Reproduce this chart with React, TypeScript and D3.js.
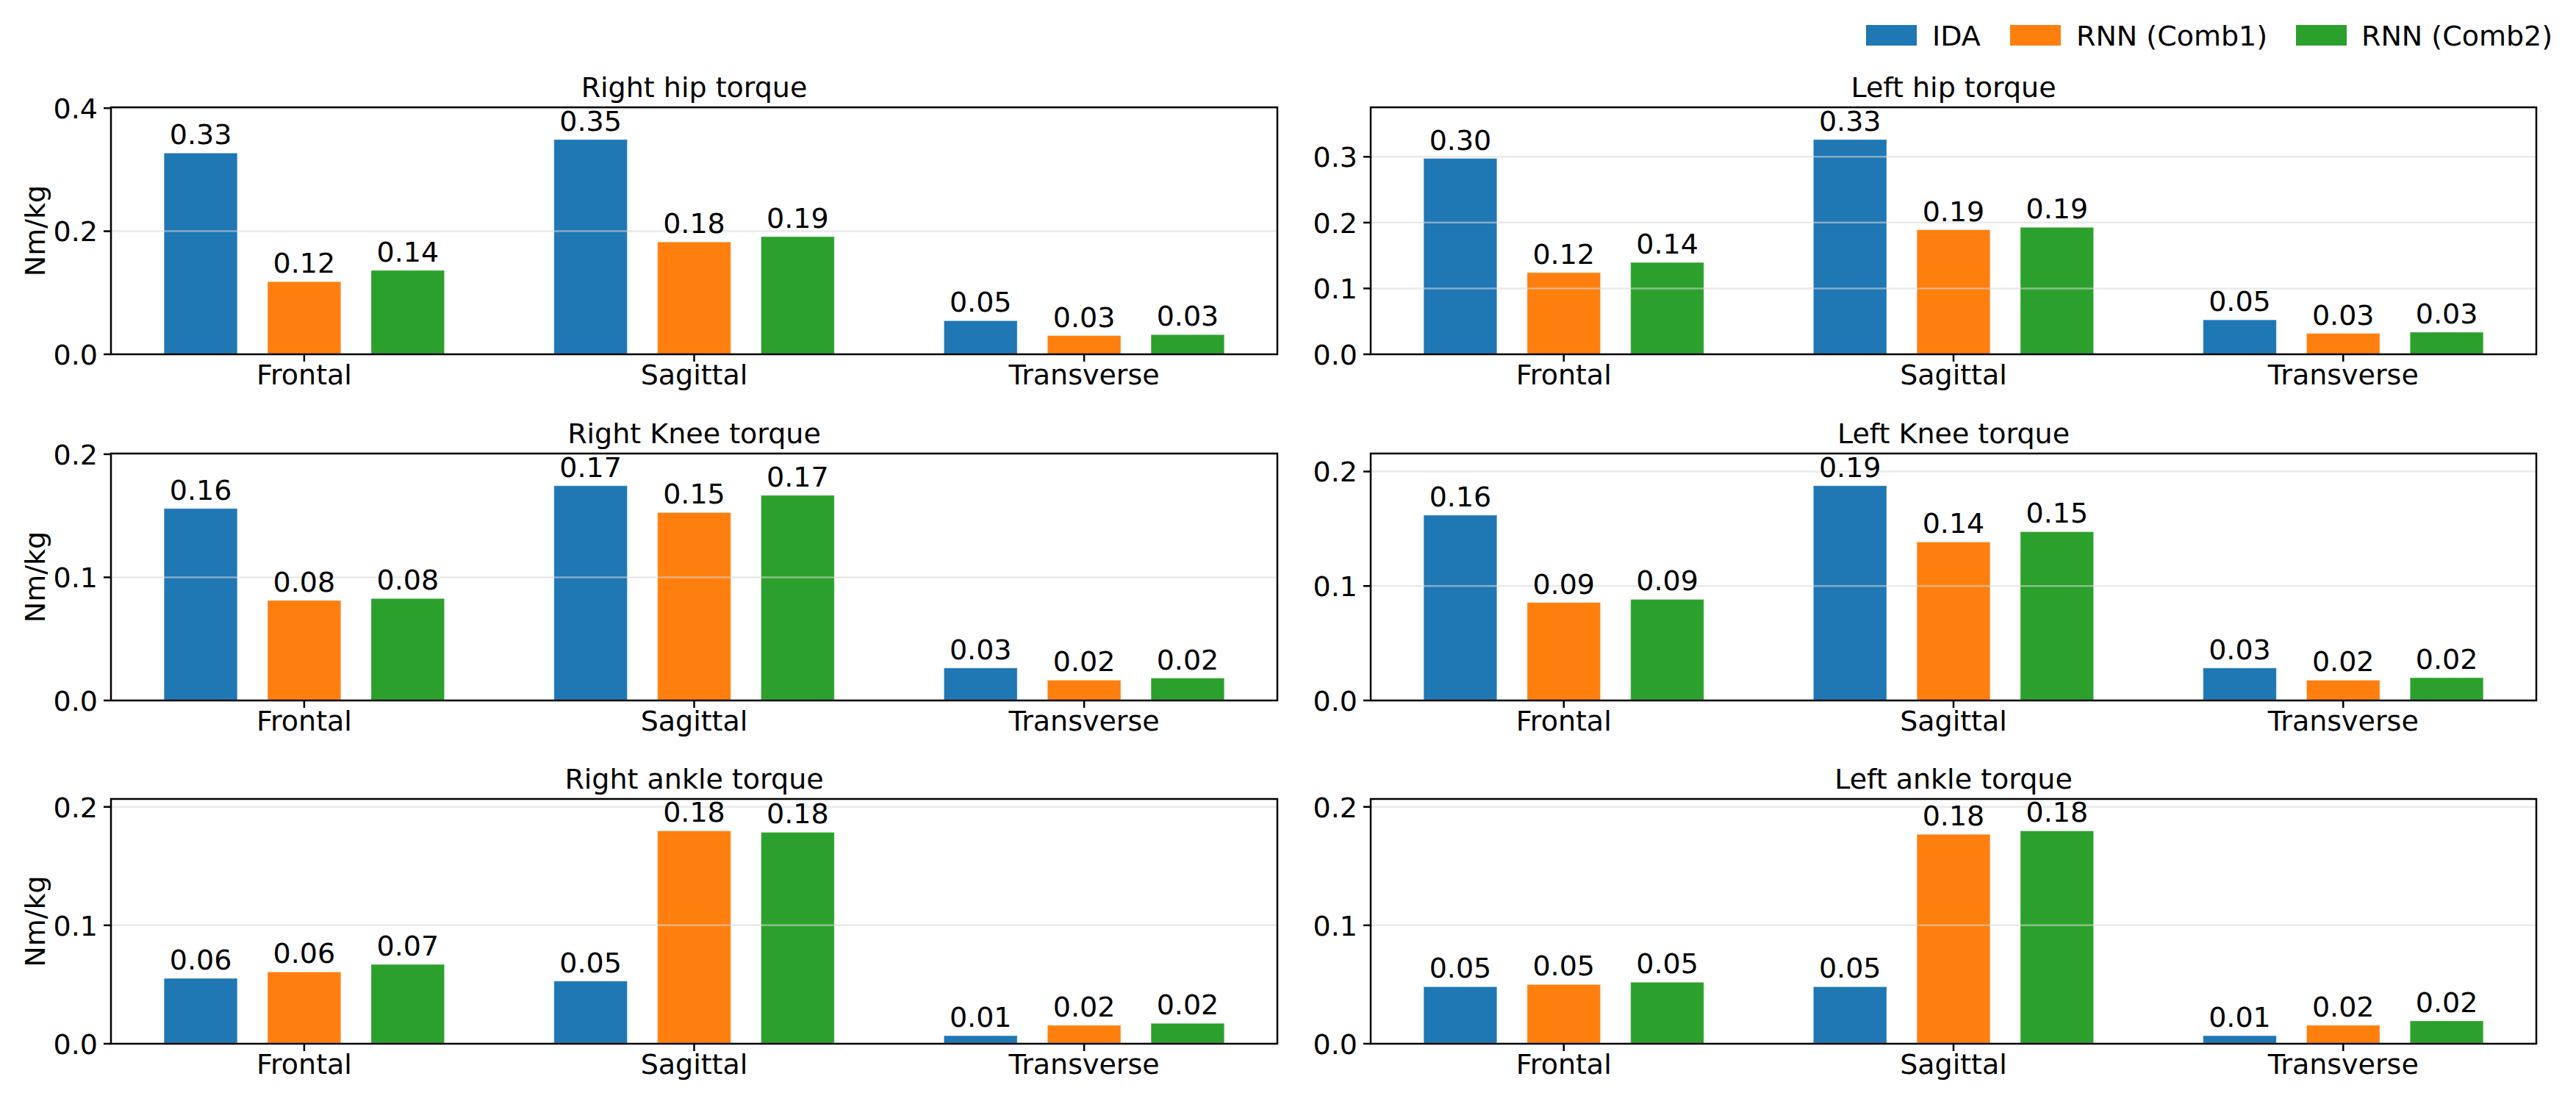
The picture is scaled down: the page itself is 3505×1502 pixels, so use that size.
import React from "react";
import * as d3 from "d3";

const categories = ["Frontal", "Sagittal", "Transverse"];
const seriesNames = ["IDA", "RNN (Comb1)", "RNN (Comb2)"];
const seriesColors = ["#1f77b4", "#ff7f0e", "#2ca02c"];

const panelTitles = [
  "Right hip torque",
  "Left hip torque",
  "Right Knee torque",
  "Left Knee torque",
  "Right ankle torque",
  "Left ankle torque",
];

// values per panel: [IDA, Comb1, Comb2] each over categories
const rightHipIDA = [0.327, 0.349, 0.0545];
const rightHipComb1 = [0.118, 0.1825, 0.0304];
const rightHipComb2 = [0.1364, 0.1912, 0.0319];

const leftHipIDA = [0.2975, 0.3262, 0.0523];
const leftHipComb1 = [0.1241, 0.1891, 0.0318];
const leftHipComb2 = [0.1395, 0.1928, 0.0336];

const rightKneeIDA = [0.1559, 0.1744, 0.0264];
const rightKneeComb1 = [0.0812, 0.1526, 0.0165];
const rightKneeComb2 = [0.0828, 0.1666, 0.0182];

const leftKneeIDA = [0.1619, 0.1876, 0.0284];
const leftKneeComb1 = [0.0856, 0.1384, 0.0177];
const leftKneeComb2 = [0.0883, 0.1474, 0.0199];

const rightAnkleIDA = [0.0552, 0.0529, 0.0068];
const rightAnkleComb1 = [0.0606, 0.1797, 0.0156];
const rightAnkleComb2 = [0.067, 0.1785, 0.0172];

const leftAnkleIDA = [0.0481, 0.0481, 0.0068];
const leftAnkleComb1 = [0.05, 0.1768, 0.0156];
const leftAnkleComb2 = [0.0519, 0.1797, 0.0193];

const panelTicks = [
  [0.0, 0.2, 0.4],
  [0.0, 0.1, 0.2, 0.3],
  [0.0, 0.1, 0.2],
  [0.0, 0.1, 0.2],
  [0.0, 0.1, 0.2],
  [0.0, 0.1, 0.2],
];

const panelData = [
  [rightHipIDA, rightHipComb1, rightHipComb2],
  [leftHipIDA, leftHipComb1, leftHipComb2],
  [rightKneeIDA, rightKneeComb1, rightKneeComb2],
  [leftKneeIDA, leftKneeComb1, leftKneeComb2],
  [rightAnkleIDA, rightAnkleComb1, rightAnkleComb2],
  [leftAnkleIDA, leftAnkleComb1, leftAnkleComb2],
];

const W = 3505;
const H = 1502;
const colLeft = [151, 1865];
const colRight = [1738, 3451];
const rowTop = [146, 617, 1087];
const rowBottom = [482, 953, 1420];

const FONT = "'DejaVu Sans', sans-serif";
const FS = 38;
const fmtVal = d3.format(".2f");
const fmtTick = d3.format(".1f");

const BAR_W = 0.188;
const OFFSET = 0.2655;

function Panel({ idx }: { idx: number }) {
  const col = idx % 2;
  const row = Math.floor(idx / 2);
  const x0 = colLeft[col];
  const x1 = colRight[col];
  const y0 = rowTop[row];
  const y1 = rowBottom[row];
  const data = panelData[idx];
  const maxV = d3.max(data.flat()) as number;
  const x = d3.scaleLinear().domain([-0.4955, 2.4955]).range([x0, x1]);
  const y = d3.scaleLinear().domain([0, maxV * 1.15]).range([y1, y0]);
  const ticks = panelTicks[idx];
  const barPx = x(BAR_W) - x(0);

  return (
    <g>
      {data.map((vals, s) =>
        vals.map((v, c) => {
          const cx = x(c + (s - 1) * OFFSET);
          return (
            <rect
              key={`b${s}-${c}`}
              x={cx - barPx / 2}
              y={y(v)}
              width={barPx}
              height={y(0) - y(v)}
              fill={seriesColors[s]}
              stroke="#ffffff"
              strokeOpacity={0.35}
              strokeWidth={1.2}
            />
          );
        })
      )}
      {ticks.map((t) => (
        <line
          key={`g${t}`}
          x1={x0}
          x2={x1}
          y1={y(t)}
          y2={y(t)}
          stroke="#d9d9d9"
          strokeOpacity={0.55}
          strokeWidth={2.5}
        />
      ))}
      {data.map((vals, s) =>
        vals.map((v, c) => (
          <text
            key={`l${s}-${c}`}
            x={x(c + (s - 1) * OFFSET)}
            y={y(v) - 12}
            textAnchor="middle"
            fontFamily={FONT}
            fontSize={FS}
            fill="#000"
          >
            {fmtVal(v)}
          </text>
        ))
      )}
      <rect
        x={x0}
        y={y0}
        width={x1 - x0}
        height={y1 - y0}
        fill="none"
        stroke="#000"
        strokeWidth={2.5}
      />
      {ticks.map((t) => (
        <g key={`yt${t}`}>
          <line x1={x0 - 10} x2={x0} y1={y(t)} y2={y(t)} stroke="#000" strokeWidth={2.5} />
          <text
            x={x0 - 18}
            y={y(t) + 13.8}
            textAnchor="end"
            fontFamily={FONT}
            fontSize={FS}
            fill="#000"
          >
            {fmtTick(t)}
          </text>
        </g>
      ))}
      {categories.map((cat, c) => (
        <g key={`xt${c}`}>
          <line x1={x(c)} x2={x(c)} y1={y1} y2={y1 + 10} stroke="#000" strokeWidth={2.5} />
          <text
            x={x(c)}
            y={y1 + 41}
            textAnchor="middle"
            fontFamily={FONT}
            fontSize={FS}
            fill="#000"
          >
            {cat}
          </text>
        </g>
      ))}
      <text
        x={(x0 + x1) / 2}
        y={y0 - 14}
        textAnchor="middle"
        fontFamily={FONT}
        fontSize={FS}
        fill="#000"
      >
        {panelTitles[idx]}
      </text>
      {col === 0 && (
        <text
          transform={`translate(61, ${(y0 + y1) / 2}) rotate(-90)`}
          textAnchor="middle"
          fontFamily={FONT}
          fontSize={FS}
          fill="#000"
        >
          Nm/kg
        </text>
      )}
    </g>
  );
}

const legendPatchX = [2539, 2735, 3124];
const legendTextX = [2629, 2825, 3213];

export default function App() {
  return (
    <svg
      width={W}
      height={H}
      viewBox={`0 0 ${W} ${H}`}
      style={{ position: "absolute", left: 0, top: 0, background: "#fff" }}
    >
      <rect x={0} y={0} width={W} height={H} fill="#fff" />
      {panelTitles.map((_, i) => (
        <Panel key={i} idx={i} />
      ))}
      {seriesNames.map((name, i) => (
        <g key={name}>
          <rect x={legendPatchX[i]} y={34} width={69} height={28} fill={seriesColors[i]} />
          <text x={legendTextX[i]} y={62} fontFamily={FONT} fontSize={FS} fill="#000">
            {name}
          </text>
        </g>
      ))}
    </svg>
  );
}
